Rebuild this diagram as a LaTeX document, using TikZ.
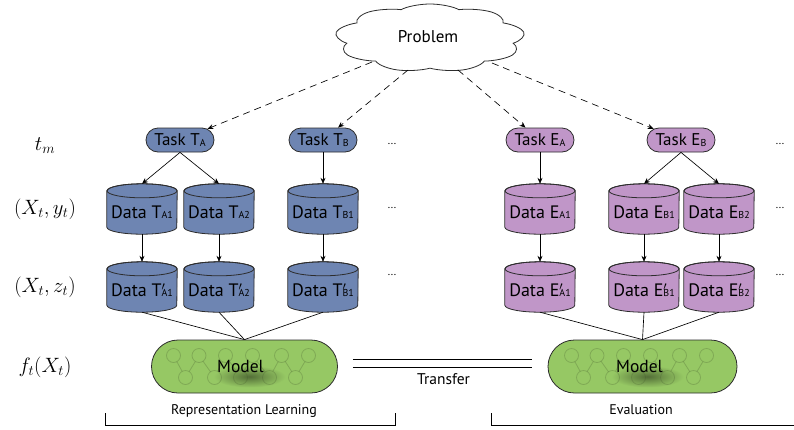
\documentclass[tikz,border=0pt]{standalone}
\usepackage{fontspec}
\setmainfont{PT Sans}
\usetikzlibrary{shapes.symbols,shapes.misc,arrows.meta}
\definecolor{tblue}{RGB}{110,133,178}
\definecolor{epurple}{RGB}{192,150,200}
\definecolor{mgreen}{RGB}{150,200,100}
\definecolor{bord}{RGB}{45,45,45}
\newcommand\sbs[1]{\raisebox{-0.6pt}{\fontsize{10}{10}\selectfont #1}}
\newcommand\prm{\rlap{$'$}}
\tikzset{
  cylbox/.style={rectangle, minimum width=70pt, minimum height=50pt, inner sep=0pt},
  datatext/.style={anchor=base, inner sep=0pt, font=\fontsize{18}{18}\selectfont},
  task/.style={rounded rectangle, draw=bord, line width=0.8pt, minimum width=68pt, minimum height=24pt, inner sep=0pt, font=\fontsize{17}{17}\selectfont},
  arr/.style={-{Stealth[length=6pt,width=5pt]}, line width=0.65pt, draw=black},
  darr/.style={arr, dash pattern=on 7pt off 5pt},
  modelbox/.style={rounded rectangle, draw=bord, fill=mgreen, line width=0.8pt, minimum width=186pt, minimum height=53pt, inner sep=0pt},
  modeltext/.style={anchor=base, inner sep=0pt, font=\fontsize{17.5}{17.5}\selectfont},
  netc/.style={draw=mgreen!45!black, draw opacity=0.28, line width=0.8pt},
  dotsn/.style={anchor=base, inner sep=0pt, font=\fontsize{11}{11}\selectfont},
  mathlab/.style={inner sep=0pt, font=\fontsize{21}{21}\selectfont},
  smalllab/.style={anchor=base, inner sep=0pt, font=\fontsize{14}{14}\selectfont},
  conn/.style={line width=0.65pt, draw=black},
}
\newcommand\datacyl[5]{%
  \node[cylbox] (#1) at (#2,#3) {};
  \path[draw=bord, fill=#4, line width=0.8pt] ([yshift=-7pt]#1.north west) -- ([yshift=7pt]#1.south west) arc[start angle=180,end angle=360,x radius=35pt,y radius=7pt] -- ([yshift=-7pt]#1.north east) arc[start angle=0,end angle=180,x radius=35pt,y radius=7pt] -- cycle;
  \draw[bord, line width=0.8pt] ([yshift=-7pt]#1.north) ellipse[x radius=35pt, y radius=7pt];
  \node[datatext] (#1-l) at ([yshift=-34.5pt]#1.north) {#5};
}
\newcommand\modelnet[1]{%
  \begin{scope}[shift={(#1.center)}]
    \foreach \x [count=\i] in {-71,-45.5,-19,8,37,64} {\coordinate (#1t\i) at (\x,11);}
    \foreach \x [count=\i] in {-59,-30,-4,25,51} {\coordinate (#1b\i) at (\x,-11);}
    \shade[inner color=mgreen!55!black, outer color=mgreen] (5,-10) ellipse[x radius=36pt, y radius=11pt];
    \foreach \i in {1,...,6} {\draw[netc] (#1t\i) circle[radius=7pt];}
    \foreach \i in {1,...,5} {\draw[netc] (#1b\i) circle[radius=7pt];}
    \foreach \i [evaluate=\i as \j using int(\i+1)] in {1,...,5} {
      \draw[netc, shorten <=7pt, shorten >=7pt] (#1t\i) -- (#1b\i);
      \draw[netc, shorten <=7pt, shorten >=7pt] (#1b\i) -- (#1t\j);
    }
  \end{scope}
}
\begin{document}
\begin{tikzpicture}[x=1pt,y=1pt]
\useasboundingbox (0,0) rectangle (794,-429);
\fill[white] (0,0) rectangle (794,-429);

% cloud
\node[cloud, draw=bord, line width=0.8pt, cloud puffs=9, cloud puff arc=115, aspect=1, minimum width=68pt, minimum height=68pt, inner sep=0pt, xscale=2.8, transform shape] (prob) at (430,-38) {};
\node[anchor=base, inner sep=0pt, font=\fontsize{17}{17}\selectfont] (probt) at (428,-42) {Problem};

% tasks
\node[task, fill=tblue] (TA) at (180,-140) {Task T\sbs{A}};
\node[task, fill=tblue] (TB) at (323,-140) {Task T\sbs{B}};
\node[task, fill=epurple] (EA) at (540,-140) {Task E\sbs{A}};
\node[task, fill=epurple] (EB) at (681,-140) {Task E\sbs{B}};

% dashed arrows from problem
\coordinate (pa) at (372,-62);
\coordinate (pb) at (408,-70);
\coordinate (pc) at (458,-70);
\coordinate (pd) at (492,-63);
\draw[darr] (pa) -- (TA);
\draw[darr] (pb) -- (TB);
\draw[darr] (pc) -- (EA);
\draw[darr] (pd) -- (EB);

% data row 1
\datacyl{a1}{142}{-209}{tblue}{Data T\sbs{A1}}
\datacyl{a2}{219}{-209}{tblue}{Data T\sbs{A2}}
\datacyl{b1}{323}{-209}{tblue}{Data T\sbs{B1}}
\datacyl{c1}{540}{-209}{epurple}{Data E\sbs{A1}}
\datacyl{d1}{644}{-209}{epurple}{Data E\sbs{B1}}
\datacyl{d2}{719}{-209}{epurple}{Data E\sbs{B2}}
% data row 2
\datacyl{a1p}{142}{-287}{tblue}{Data T\prm\sbs{A1}}
\datacyl{a2p}{219}{-287}{tblue}{Data T\prm\sbs{A2}}
\datacyl{b1p}{323}{-287}{tblue}{Data T\prm\sbs{B1}}
\datacyl{c1p}{540}{-287}{epurple}{Data E\prm\sbs{A1}}
\datacyl{d1p}{644}{-287}{epurple}{Data E\prm\sbs{B1}}
\datacyl{d2p}{719}{-287}{epurple}{Data E\prm\sbs{B2}}

% task -> data
\draw[arr] (TA.south) -- (a1.north);
\draw[arr] (TA.south) -- (a2.north);
\draw[arr] (TB.south) -- (b1.north);
\draw[arr] (EA.south) -- (c1.north);
\draw[arr] (EB.south) -- (d1.north);
\draw[arr] (EB.south) -- (d2.north);
% row1 -> row2
\foreach \n in {a1,a2,b1,c1,d1,d2} {\draw[arr] (\n.south) -- (\n p.north);}

% models
\node[modelbox] (m1) at (244.5,-366.5) {};
\node[modelbox, minimum width=189pt] (m2) at (642.5,-366.5) {};
\modelnet{m1}
\modelnet{m2}
\node[modeltext] (m1t) at (240.5,-372) {Model};
\node[modeltext] (m2t) at (639.5,-372) {Model};

% data row2 -> model
\foreach \n in {a1p,a2p,b1p} {\draw[conn] (\n.south) -- (m1.north);}
\foreach \n in {c1p,d1p,d2p} {\draw[conn] (\n.south) -- (m2.north);}

% transfer
\draw[conn] ([xshift=15pt,yshift=7.5pt]m1.east) -- ([xshift=-16pt,yshift=7.5pt]m2.west);
\draw[conn] ([xshift=15pt,yshift=-0.5pt]m1.east) -- ([xshift=-16pt,yshift=-0.5pt]m2.west);
\node[anchor=base, inner sep=0pt, font=\fontsize{15.5}{15.5}\selectfont] (tr) at (443.5,-384) {Transfer};

% dots
\node[dotsn] (x1) at (392,-144) {...};
\node[dotsn] (x2) at (392,-208) {...};
\node[dotsn] (x3) at (392,-275) {...};
\node[dotsn] (x4) at (780,-144) {...};
\node[dotsn] (x5) at (780,-208) {...};
\node[dotsn] (x6) at (780,-275) {...};

% left labels
\node[mathlab] (l1) at (45,-146) {$t_m$};
\node[mathlab] (l2) at (45,-209) {$(X_t,y_t)$};
\node[mathlab] (l3) at (45,-287) {$(X_t,z_t)$};
\node[mathlab] (l4) at (45,-367) {$f_t(X_t)$};

% brackets
\coordinate (rl1) at (105,-413);
\coordinate (rl2) at (395,-413);
\coordinate (ev1) at (491,-413);
\coordinate (ev2) at (794,-425);
\draw[conn] (rl1) -- ++(0,-12) -| (rl2);
\draw[conn] (ev1) -- ++(0,-12) -- (ev2);
\node[smalllab] (rlt) at (244,-414) {Representation Learning};
\node[smalllab] (evt) at (641,-414) {Evaluation};
\end{tikzpicture}
\end{document}
